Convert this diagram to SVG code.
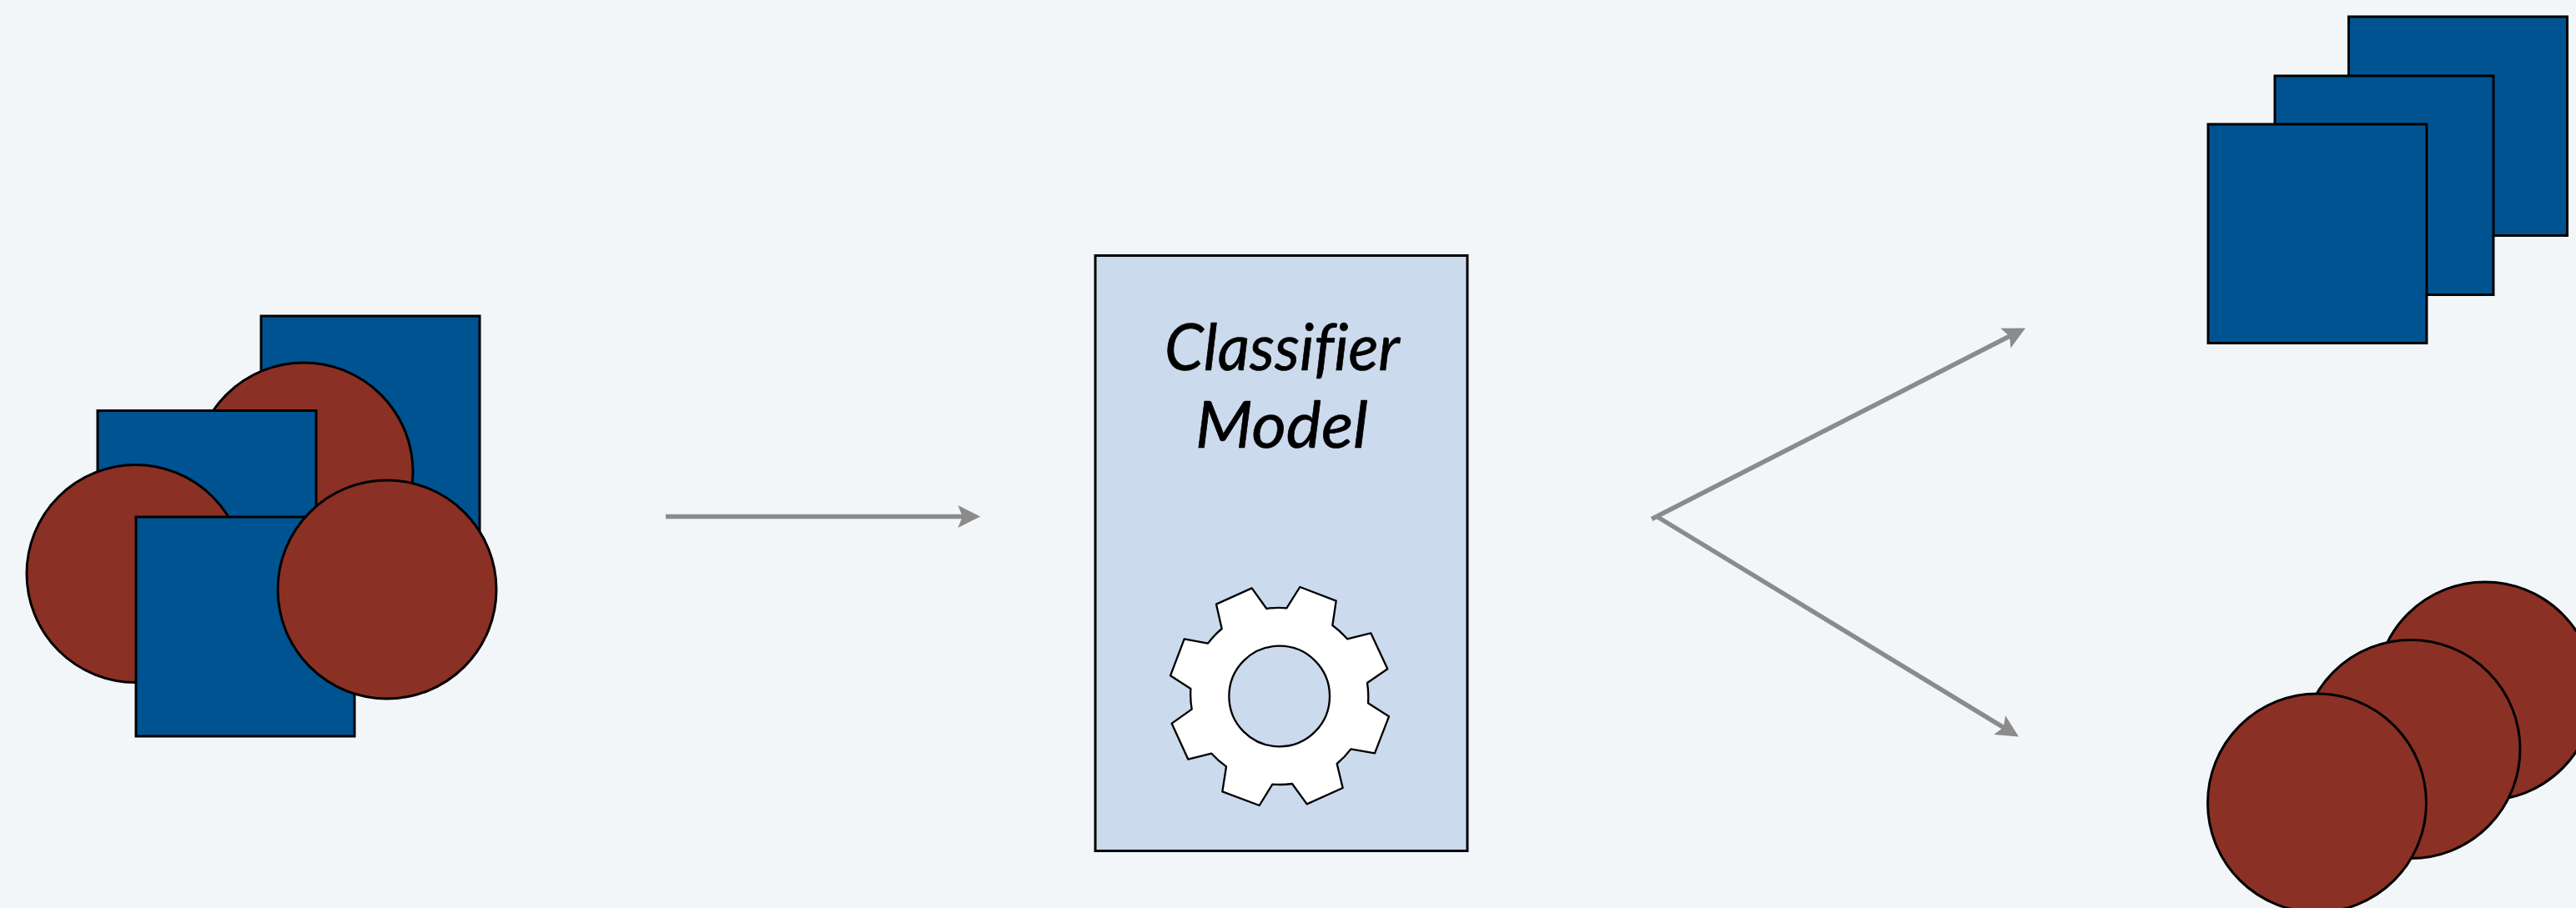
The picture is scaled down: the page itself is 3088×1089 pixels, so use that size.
<svg xmlns="http://www.w3.org/2000/svg" width="3088" height="1089" viewBox="0 0 3088 1089">
<style>
.s{fill:#005391;stroke:#000;stroke-width:3}
.c{fill:#8b3025;stroke:#000;stroke-width:3}
.k{stroke:#8b8b8b;stroke-width:5.500;fill:none;marker-end:url(#ah)}
text{font-family:"Lato","Open Sans",sans-serif;font-style:italic;font-size:77px;fill:#000;stroke:#000;stroke-width:.7;font-variant-ligatures:none}
</style>
<defs><marker id="ah" markerUnits="userSpaceOnUse" markerWidth="30" markerHeight="30" viewBox="0 -14 26 28" refX="9" refY="0" orient="auto"><path d="M0-12.500L25 0L0 12.500L5 0Z" fill="#8b8b8b"/></marker></defs>
<rect width="3088" height="1089" fill="#f2f6f9"/>
<g id="input-shapes">
<rect class="s" x="313" y="379" width="262" height="263"/>
<circle class="c" cx="364" cy="566" r="131"/>
<rect class="s" x="117" y="492.500" width="262" height="263"/>
<circle class="c" cx="162.500" cy="688" r="130.500"/>
<rect class="s" x="163" y="620" width="262" height="263"/>
<circle class="c" cx="464" cy="707" r="131"/>
</g>
<g id="classifier-model">
<rect x="1313" y="306.500" width="446" height="714" fill="#cbdaed" stroke="#000" stroke-width="3"/>
<text x="1396" y="444" textLength="282" lengthAdjust="spacingAndGlyphs">Classifier</text>
<text x="1433" y="537" textLength="207" lengthAdjust="spacingAndGlyphs">Model</text>
<path transform="translate(1380 680) scale(.33333)" fill="#fff" fill-rule="evenodd" stroke="#000" stroke-width="7" stroke-linejoin="round" d="M362 76L415 150A318 318 0 0 1 487 148L535 72L665 122L652 210A318 318 0 0 1 705 259L790 238L850 367L777 417A318 318 0 0 1 780 490L855 538L804 670L718 655A318 318 0 0 1 668 708L689 795L560 853L507 780A318 318 0 0 1 436 782L389 858L256 808L270 718A318 318 0 0 1 217 671L133 692L74 563L146 512A318 318 0 0 1 142 438L69 391L119 259L204 275A318 318 0 0 1 254 222L234 134ZM642 465A181 181 0 1 0 280 465A181 181 0 1 0 642 465Z"/>
</g>
<g id="output-squares">
<rect class="s" x="2815.500" y="20" width="262" height="262.500"/>
<rect class="s" x="2727" y="91" width="262" height="262.500"/>
<rect class="s" x="2647" y="149" width="262" height="262.500"/>
</g>
<g id="output-circles">
<circle class="c" cx="2979" cy="829" r="131"/>
<circle class="c" cx="2890" cy="898.500" r="131"/>
<circle class="c" cx="2777.500" cy="963" r="131"/>
</g>
<g id="connectors">
<path class="k" d="M798 619.500H1158"/>
<path class="k" d="M1980 622.500L2412.800 401.300"/>
<path class="k" d="M1987 620L2405.300 874.700"/>
</g>
</svg>
